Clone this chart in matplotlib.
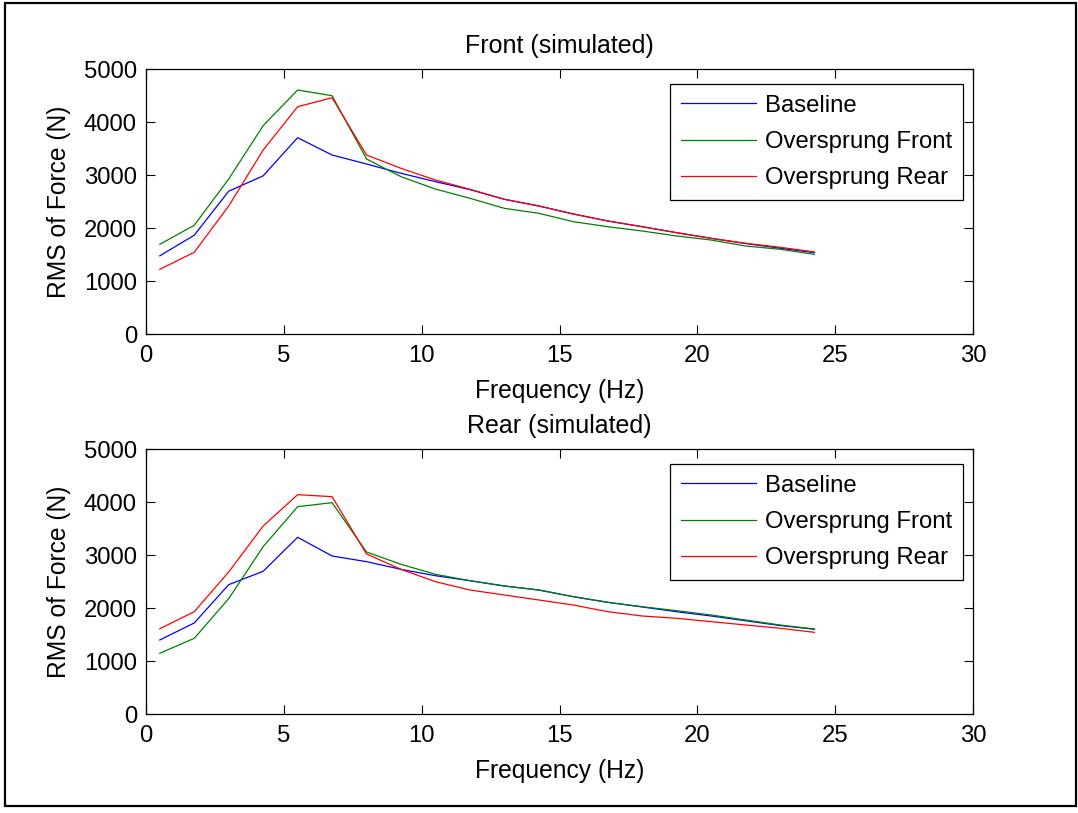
import matplotlib
matplotlib.use("Agg")
import matplotlib.pyplot as plt
from matplotlib.patches import Rectangle

# Frequency bins (Hz)
freq = [0.5, 1.75, 3.0, 4.25, 5.5, 6.75, 8.0, 9.25, 10.5, 11.75,
        13.0, 14.25, 15.5, 16.75, 18.0, 19.25, 20.5, 21.75, 23.0, 24.25]

# Front axle RMS force (N)
front_baseline = [1480, 1870, 2700, 2990, 3710, 3383, 3213, 3038, 2880, 2730,
                  2547, 2421, 2270, 2138, 2030, 1917, 1811, 1712, 1625, 1540]
front_over_front = [1698, 2057, 2930, 3936, 4609, 4502, 3308, 2974, 2740, 2566,
                    2377, 2283, 2125, 2030, 1949, 1855, 1779, 1666, 1604, 1509]
front_over_rear = [1226, 1547, 2420, 3477, 4294, 4464, 3383, 3132, 2911, 2736,
                   2547, 2421, 2270, 2138, 2030, 1917, 1811, 1717, 1642, 1553]

# Rear axle RMS force (N)
rear_baseline = [1402, 1723, 2446, 2698, 3340, 2987, 2880, 2735, 2615, 2521,
                 2421, 2345, 2219, 2113, 2025, 1935, 1855, 1765, 1675, 1605]
rear_over_front = [1151, 1434, 2182, 3163, 3917, 3993, 3062, 2830, 2641, 2521,
                   2421, 2345, 2219, 2113, 2030, 1955, 1874, 1779, 1685, 1609]
rear_over_rear = [1615, 1936, 2685, 3553, 4144, 4106, 3025, 2735, 2502, 2345,
                  2251, 2157, 2062, 1936, 1855, 1811, 1748, 1685, 1623, 1547]

series_labels = ["Baseline", "Oversprung Front", "Oversprung Rear"]
series_colors = ["#0000ff", "#008000", "#ff0000"]
titles = ["Front (simulated)", "Rear (simulated)"]
x_ticks = [0, 5, 10, 15, 20, 25, 30]
y_ticks = [0, 1000, 2000, 3000, 4000, 5000]

plt.rcParams["font.family"] = ["Liberation Sans", "DejaVu Sans"]
FS = 17.2        # tick labels and legend
FS_LABEL = 17.7  # axis labels
FS_TITLE = 18.0  # subplot titles

fig = plt.figure(figsize=(10.78, 8.13), dpi=100)
fig.patch.set_facecolor("white")
# Outer frame around the whole figure
W, H = 1078.0, 813.0
fig.patches.append(Rectangle((5 / W, (H - 806) / H), (1076 - 5) / W, (806 - 3) / H,
                             transform=fig.transFigure, fill=False,
                             edgecolor="black", linewidth=1.6, zorder=10))

ax_left = 146 / W
ax_width = (973 - 146) / W
ax_height = 265 / H
ax_bottoms = [(H - 334.3) / H, (H - 714.3) / H]

datasets = [
    [front_baseline, front_over_front, front_over_rear],
    [rear_baseline, rear_over_front, rear_over_rear],
]

for bottom, title, data in zip(ax_bottoms, titles, datasets):
    ax = fig.add_axes([ax_left, bottom, ax_width, ax_height])
    for vals, lab, col in zip(data, series_labels, series_colors):
        ax.plot(freq, vals, color=col, linewidth=0.9, label=lab)
    ax.set_xlim(0, 30)
    ax.set_ylim(0, 5000)
    ax.set_xticks(x_ticks)
    ax.set_yticks(y_ticks)
    ax.tick_params(direction="in", top=True, right=True, length=6.5, width=0.8,
                   labelsize=FS)
    ax.tick_params(axis="x", pad=8)
    ax.tick_params(axis="y", pad=6.5)
    for sp in ax.spines.values():
        sp.set_linewidth(0.9)
    ax.set_title(title, fontsize=FS_TITLE, pad=12)
    ax.set_xlabel("Frequency (Hz)", fontsize=FS_LABEL, labelpad=8)
    ax.set_ylabel("RMS of Force (N)", fontsize=FS_LABEL, labelpad=9)
    leg = ax.legend(loc="upper right", bbox_to_anchor=(0.988, 0.9445),
                    fontsize=FS, frameon=True, fancybox=False, framealpha=1,
                    edgecolor="black", handlelength=3.15, handletextpad=0.38,
                    labelspacing=0.6, borderpad=0.45, borderaxespad=0)
    leg.get_frame().set_linewidth(0.9)

fig.savefig("out.png", dpi=100, facecolor="white")
